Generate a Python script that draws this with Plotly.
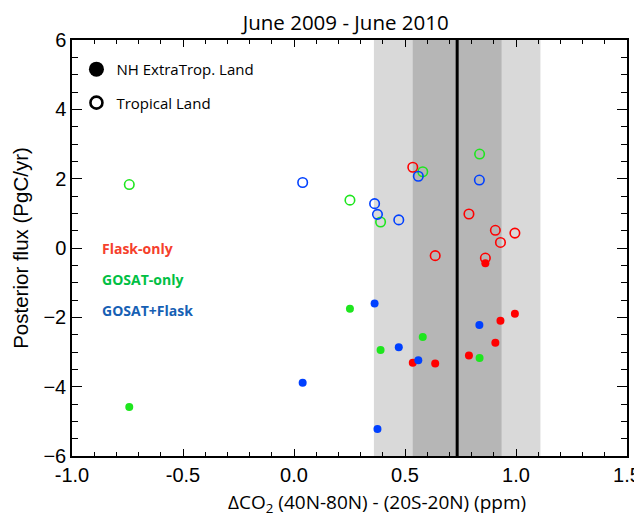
import plotly.graph_objects as go

# Observed gradient (ppm) and uncertainty bands
obs_mean = 0.735
obs_err_inner = 0.20
obs_err_outer = 0.375

# Flask-only
flask_x = [0.535, 0.636, 0.788, 0.862, 0.907, 0.930, 0.995]
flask_nh = [-3.31, -3.33, -3.10, -0.44, -2.73, -2.10, -1.90]
flask_trop = [2.33, -0.22, 0.98, -0.29, 0.51, 0.16, 0.43]

# GOSAT-only
gosat_x = [-0.742, 0.252, 0.390, 0.580, 0.836]
gosat_nh = [-4.59, -1.75, -2.94, -2.57, -3.17]
gosat_trop = [1.83, 1.38, 0.75, 2.20, 2.71]

# GOSAT+Flask
both_x = [0.039, 0.363, 0.376, 0.472, 0.560, 0.835]
both_nh = [-3.89, -1.60, -5.22, -2.86, -3.24, -2.22]
both_trop = [1.89, 1.28, 0.97, 0.81, 2.07, 1.96]

series = [
    ("Flask-only", flask_x, flask_nh, flask_trop, "#ff0000", "#f5402c"),
    ("GOSAT-only", gosat_x, gosat_nh, gosat_trop, "#1ee61e", "#00c044"),
    ("GOSAT+Flask", both_x, both_nh, both_trop, "#0040ff", "#1660b4"),
]

fig = go.Figure()

for name, xs, nh, trop, col, _ in series:
    fig.add_trace(go.Scatter(
        x=xs, y=trop, mode="markers", showlegend=False,
        marker=dict(symbol="circle-open", size=9.5, color=col, line=dict(width=1.6, color=col)),
    ))
    fig.add_trace(go.Scatter(
        x=xs, y=nh, mode="markers", showlegend=False,
        marker=dict(symbol="circle", size=8, color=col),
    ))

# legend entries
fig.add_trace(go.Scatter(
    x=[None], y=[None], mode="markers", name="NH ExtraTrop. Land", legendgroup="a",
    marker=dict(symbol="circle", size=15, color="black"),
))
fig.add_trace(go.Scatter(
    x=[None], y=[None], mode="markers", name="Tropical Land", legendgroup="b",
    marker=dict(symbol="circle-open", size=12, color="black", line=dict(width=2.6, color="black")),
))

shapes = [
    dict(type="rect", xref="x", yref="paper", x0=obs_mean - obs_err_outer, x1=obs_mean + obs_err_outer,
         y0=0, y1=1, fillcolor="#d9d9d9", line=dict(width=0), layer="below"),
    dict(type="rect", xref="x", yref="paper", x0=obs_mean - obs_err_inner, x1=obs_mean + obs_err_inner,
         y0=0, y1=1, fillcolor="#b6b6b6", line=dict(width=0), layer="below"),
    dict(type="line", xref="x", yref="paper", x0=obs_mean, x1=obs_mean,
         y0=0, y1=1, line=dict(color="black", width=3), layer="below"),
]

label_y = [0.0, -0.9, -1.8]
annotations = []
for (name, _, _, _, _, tcol), ly in zip(series, label_y):
    annotations.append(dict(
        x=0.05, xref="paper", y=ly, yref="y", text="<b>%s</b>" % name,
        showarrow=False, xanchor="left", yanchor="middle",
        font=dict(family="Open Sans", size=14, color=tcol),
    ))
annotations.append(dict(
    x=0.55, xref="paper", y=-0.114, yref="paper",
    text="ΔCO<sub>2</sub> (40N-80N) - (20S-20N) (ppm)", showarrow=False,
    xanchor="center", yanchor="middle",
    font=dict(family="Open Sans", size=19, color="black"),
))

axis_common = dict(
    showline=True, linecolor="black", linewidth=1.5, mirror="allticks",
    ticks="inside", tickcolor="black", tickwidth=1.2, showgrid=False, zeroline=False,
    automargin=False,
    tickfont=dict(family="Liberation Sans", size=20, color="black"),
)

fig.update_layout(
    width=642, height=517,
    margin=dict(l=64, r=23, t=32, b=69),
    plot_bgcolor="white", paper_bgcolor="white",
    title=dict(text="June 2009 - June 2010", x=0.526, xanchor="center", y=0.972, yanchor="middle",
               font=dict(family="Open Sans", size=20.5, color="black")),
    xaxis=dict(range=[-1.0, 1.5], tickvals=[-1.0, -0.5, 0.0, 0.5, 1.0, 1.5],
               ticktext=["-1.0", "-0.5", "0.0", "0.5", "1.0", "1.5"], ticklen=7,
               minor=dict(dtick=0.1, ticks="inside", ticklen=4, tickcolor="black", tickwidth=1.2),
               **axis_common),
    yaxis=dict(range=[-6, 6], tickvals=[-6, -4, -2, 0, 2, 4, 6], ticklen=10,
               minor=dict(dtick=0.5, ticks="inside", ticklen=6, tickcolor="black", tickwidth=1.2),
               title=dict(text="Posterior flux (PgC/yr)", standoff=9,
                          font=dict(family="Liberation Sans", size=20.5, color="black")),
               **axis_common),
    legend=dict(x=0.008, y=0.969, xanchor="left", yanchor="top", bgcolor="rgba(0,0,0,0)",
                font=dict(family="Open Sans", size=15, color="black"), tracegroupgap=11,
                itemsizing="trace"),
    shapes=shapes,
    annotations=annotations,
)

fig.write_html("out.html")
